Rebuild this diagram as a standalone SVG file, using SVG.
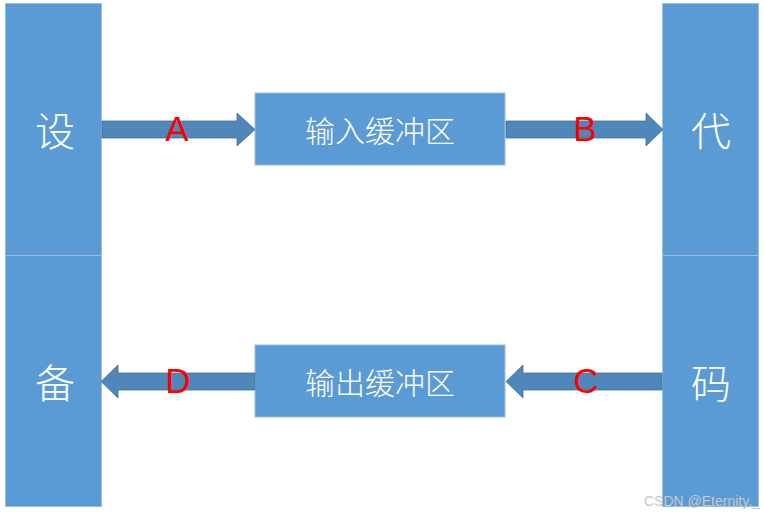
<svg xmlns="http://www.w3.org/2000/svg" width="765" height="516" viewBox="0 0 765 516">
<style>
.blk{fill:#5B9BD5;stroke:#9DBDE3;stroke-width:1}
.big{font-family:"Noto Sans CJK SC","Microsoft YaHei",sans-serif;font-size:40px;font-weight:300;fill:#fff;text-anchor:middle;dominant-baseline:central}
.box{font-family:"Noto Sans CJK SC",sans-serif;font-size:30px;font-weight:300;fill:#fff;text-anchor:middle;dominant-baseline:central}
.arr{fill:#4F87BA;stroke:#41719C;stroke-width:0.8}
.lbl{font-family:"Liberation Sans","DejaVu Sans",sans-serif;font-size:35px;fill:#FF0000;text-anchor:middle;dominant-baseline:central}
.wm{font-family:"Liberation Sans",sans-serif;font-size:14px;fill:#C8C8C8}
</style>
<rect width="765" height="516" fill="#fff"/>
<g id="device">
<rect class="blk" x="5.5" y="3.5" width="96" height="252"/>
<rect class="blk" x="5.5" y="255.5" width="96" height="251"/>
<text class="big" x="55" y="129">设</text>
<text class="big" x="55" y="381">备</text>
</g>
<g id="code">
<rect class="blk" x="662.5" y="3.5" width="96" height="252"/>
<rect class="blk" x="662.5" y="255.5" width="96" height="251"/>
<text class="big" x="711" y="129">代</text>
<text class="big" x="711" y="381">码</text>
</g>
<g id="inbuf">
<rect class="blk" x="255" y="93" width="250" height="72" stroke="none"/>
<text class="box" x="380" y="129">输入缓冲区</text>
</g>
<g id="outbuf">
<rect class="blk" x="255" y="345" width="250" height="72" stroke="none"/>
<text class="box" x="380" y="381">输出缓冲区</text>
</g>
<g id="connectors">
<polygon class="arr" points="102,121 237,121 237,113 255,129.5 237,146 237,138 102,138"/>
<polygon class="arr" points="506,121 646,121 646,113 663,129.5 646,146 646,138 506,138"/>
<polygon class="arr" points="662,373 523,373 523,365 506,381.5 523,398 523,390 662,390"/>
<polygon class="arr" points="255,373 118,373 118,365 101,381.5 118,398 118,390 255,390"/>
<text class="lbl" x="177" y="128">A</text>
<text class="lbl" x="585" y="128">B</text>
<text class="lbl" x="586" y="380">C</text>
<text class="lbl" x="178" y="380">D</text>
</g>
<text class="wm" x="644" y="506">CSDN @Eternity._</text>
</svg>
